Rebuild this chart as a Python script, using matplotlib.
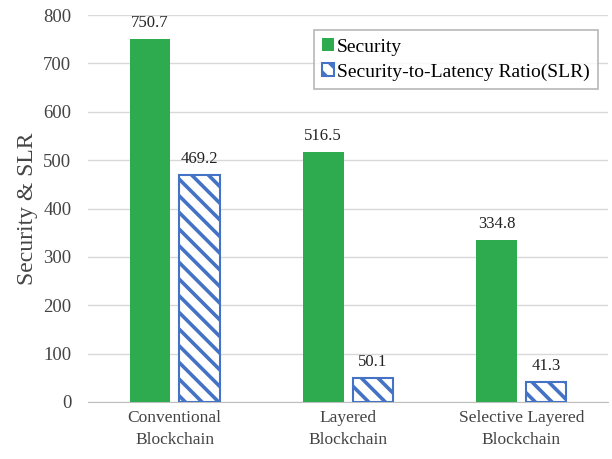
import numpy as np
import matplotlib.pyplot as plt

plt.rcParams['font.family'] = ['Liberation Serif', 'DejaVu Serif']
plt.rcParams['hatch.linewidth'] = 2.6
plt.rcParams['hatch.color'] = '#4472C4'

categories = ['Conventional\nBlockchain', 'Layered\nBlockchain', 'Selective Layered\nBlockchain']
security = [750.7, 516.5, 334.8]
slr = [469.2, 50.1, 41.3]

green = '#2EAA4F'
blue = '#4472C4'

fig = plt.figure(figsize=(6.12, 4.59), dpi=100)
ax = fig.add_axes([0.1438, 0.1242, 0.8497, 0.8431])

x = np.arange(len(categories))
w = 0.234
off = 0.143
b1 = ax.bar(x - off, security, w, color=green, label='Security', zorder=3)
b2 = ax.bar(x + off, slr, w, color='white', edgecolor=blue, hatch='\\\\', linewidth=1.5,
            label='Security-to-Latency Ratio(SLR)', zorder=3)

for rect, v in zip(b1, security):
    ax.text(rect.get_x() + rect.get_width() / 2, v + 17, f'{v:.1f}', ha='center', va='bottom',
            fontsize=12, color='#222222')
for rect, v in zip(b2, slr):
    ax.text(rect.get_x() + rect.get_width() / 2, v + 17, f'{v:.1f}', ha='center', va='bottom',
            fontsize=12, color='#222222')

ax.set_xlim(-0.5, 2.5)
ax.set_ylim(0, 800)
ax.set_yticks(range(0, 801, 100))
ax.set_xticks(x)
ax.set_xticklabels(categories, fontsize=12.5, color='#444444', linespacing=1.45)
ax.tick_params(axis='y', labelsize=13.5, labelcolor='#444444', length=0, pad=12)
ax.tick_params(axis='x', length=0, pad=6)
ax.yaxis.grid(True, color='#D9D9D9', linewidth=1, zorder=0)
ax.set_axisbelow(True)
for s in ['top', 'right', 'left']:
    ax.spines[s].set_visible(False)
ax.spines['bottom'].set_color('#BFBFBF')
ax.set_ylabel('Security & SLR', fontsize=17, color='#444444', labelpad=4)

leg = ax.legend(loc='upper right', bbox_to_anchor=(0.98, 0.96), fontsize=14, frameon=True,
                fancybox=False, edgecolor='#A6A6A6', handlelength=0.65, handleheight=0.65,
                handletextpad=0.15, borderpad=0.4, labelspacing=0.4, borderaxespad=0)
leg.get_frame().set_linewidth(1.2)

fig.savefig('out.png', dpi=100)
